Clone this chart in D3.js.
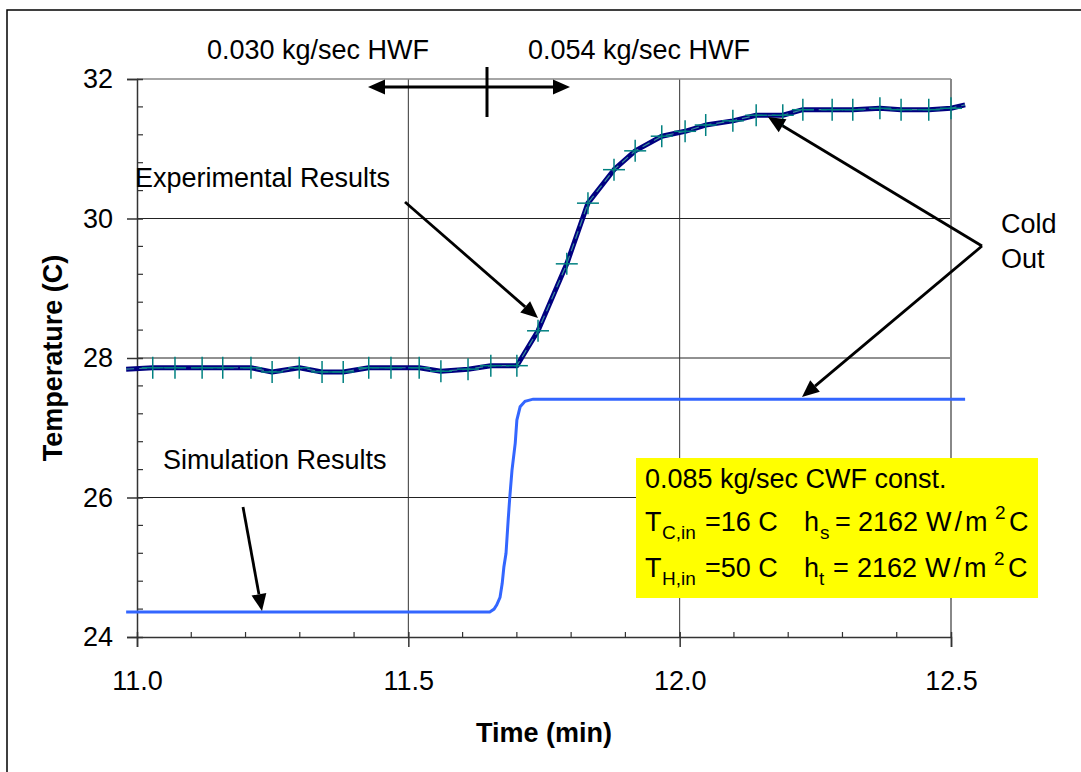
<!DOCTYPE html>
<html><head><meta charset="utf-8">
<script src="https://cdn.jsdelivr.net/npm/d3@7"></script>
<style>body{margin:0;background:#fff}svg{display:block}text{font-family:"Liberation Sans",Arial,sans-serif}</style>
</head><body>
<svg id="c" width="1081" height="772"></svg>
<script>
// ---- data ----
const xTicks = [11.0, 11.5, 12.0, 12.5];
const yTicks = [24, 26, 28, 30, 32];
const expTime = [10.980, 11.029, 11.070, 11.120, 11.158, 11.210, 11.249, 11.299, 11.341, 11.380, 11.427, 11.468, 11.520, 11.560, 11.610, 11.652, 11.700, 11.739, 11.792, 11.831, 11.879, 11.918, 11.967, 12.010, 12.048, 12.098, 12.141, 12.190, 12.227, 12.281, 12.319, 12.369, 12.408, 12.459, 12.500, 12.526];
const expTemp = [27.84, 27.86, 27.86, 27.86, 27.86, 27.86, 27.80, 27.86, 27.80, 27.80, 27.86, 27.86, 27.86, 27.81, 27.84, 27.89, 27.89, 28.39, 29.35, 30.22, 30.70, 30.97, 31.18, 31.25, 31.34, 31.40, 31.48, 31.48, 31.56, 31.56, 31.56, 31.58, 31.56, 31.56, 31.58, 31.63];
const simTime = [10.980, 11.650, 11.658, 11.663, 11.669, 11.673, 11.676, 11.680, 11.684, 11.687, 11.691, 11.697, 11.700, 11.706, 11.715, 11.730, 12.526];
const simTemp = [24.36, 24.36, 24.40, 24.46, 24.57, 24.77, 25.00, 25.20, 25.68, 26.01, 26.39, 26.78, 27.11, 27.30, 27.38, 27.41, 27.41];

const svg = d3.select("#c");
const L = 137, R = 951, T = 79, B = 637;
const x = d3.scaleLinear().domain([11, 12.5]).range([L, R]);
const y = d3.scaleLinear().domain([24, 32]).range([B, T]);
const FS = 27;

// outer frame (left & top visible)
svg.append("rect").attr("x", 7).attr("y", 10).attr("width", 1200).attr("height", 900)
  .attr("fill", "none").attr("stroke", "#000").attr("stroke-width", 1.5);

// gridlines
const g = svg.append("g");
yTicks.filter(d => d > 24 && d < 32).forEach(d => {
  g.append("line").attr("x1", L).attr("x2", R).attr("y1", y(d)).attr("y2", y(d)).attr("stroke", "#222").attr("stroke-width", 1);
});
xTicks.filter(d => d > 11 && d < 12.5).forEach(d => {
  g.append("line").attr("x1", x(d)).attr("x2", x(d)).attr("y1", T).attr("y2", B).attr("stroke", "#333").attr("stroke-width", 1);
});
g.append("line").attr("x1", L).attr("x2", R).attr("y1", T).attr("y2", T).attr("stroke", "#888").attr("stroke-width", 1.5);
g.append("line").attr("x1", R).attr("x2", R).attr("y1", T).attr("y2", B).attr("stroke", "#888").attr("stroke-width", 2);

// axes with d3
const xAxis = d3.axisBottom(x).tickValues(xTicks).tickFormat(d3.format(".1f")).tickSize(10).tickPadding(24);
const xa = svg.append("g").attr("transform", `translate(0,${B})`).call(xAxis);
xa.select(".domain").attr("stroke", "#333").attr("stroke-width", 1.5);
xa.selectAll(".tick line").attr("stroke", "#333").attr("stroke-width", 1.5).attr("y1", -5);
xa.selectAll(".tick text").attr("font-size", FS).attr("fill", "#000").attr("font-family", "Liberation Sans, Arial");
const xMinor = d3.range(11.1, 12.5, 0.1).filter(v => Math.abs(v * 2 - Math.round(v * 2)) > 0.01);
xMinor.forEach(v => svg.append("line").attr("x1", x(v)).attr("x2", x(v)).attr("y1", B - 5).attr("y2", B).attr("stroke", "#333").attr("stroke-width", 1.2));

const yAxis = d3.axisLeft(y).tickValues(yTicks).tickSize(10).tickPadding(14);
const ya = svg.append("g").attr("transform", `translate(${L},0)`).call(yAxis);
ya.select(".domain").attr("stroke", "#333").attr("stroke-width", 1.5);
ya.selectAll(".tick line").attr("stroke", "#333").attr("stroke-width", 1.5).attr("x1", 6);
ya.selectAll(".tick text").attr("font-size", FS).attr("fill", "#000").attr("font-family", "Liberation Sans, Arial");
const yMinor = d3.range(24.4, 32, 0.4).filter(v => Math.abs(v / 2 - Math.round(v / 2)) > 0.01);
yMinor.forEach(v => svg.append("line").attr("x1", L).attr("x2", L + 6).attr("y1", y(v)).attr("y2", y(v)).attr("stroke", "#333").attr("stroke-width", 1.2));

// axis titles
svg.append("text").attr("x", (L + R) / 2).attr("y", 742).attr("text-anchor", "middle")
  .attr("font-size", FS).attr("font-weight", "bold").text("Time (min)");
svg.append("text").attr("transform", `translate(62,${(T + B) / 2}) rotate(-90)`).attr("text-anchor", "middle")
  .attr("font-size", FS).attr("font-weight", "bold").text("Temperature (C)");

// series
const line = d3.line().x(d => x(d[0])).y(d => y(d[1]));
const sim = simTime.map((t, i) => [t, simTemp[i]]);
const exp = expTime.map((t, i) => [t, expTemp[i]]);
svg.append("path").attr("d", line(sim)).attr("fill", "none").attr("stroke", "#3366FF").attr("stroke-width", 3);
svg.append("path").attr("d", line(exp)).attr("fill", "none").attr("stroke", "#000080").attr("stroke-width", 5).attr("stroke-linejoin", "round");
svg.append("path").attr("d", line(exp)).attr("fill", "none").attr("stroke", "#3a8f9a").attr("stroke-width", 1.2).attr("stroke-dasharray", "8,5");
const mk = svg.append("g").attr("stroke", "#008080").attr("stroke-width", 1.5);
exp.filter(d => d[0] >= 11 && d[0] <= 12.501).forEach(d => {
  const cx = x(d[0]), cy = y(d[1]);
  mk.append("line").attr("x1", cx - 11).attr("x2", cx + 11).attr("y1", cy).attr("y2", cy);
  mk.append("line").attr("x1", cx).attr("x2", cx).attr("y1", cy - 11).attr("y2", cy + 11);
});

// arrows
function arrow(x1, y1, x2, y2) {
  const a = Math.atan2(y2 - y1, x2 - x1), len = 17, w = 7.5;
  const bx = x2 - len * Math.cos(a), by = y2 - len * Math.sin(a);
  svg.append("line").attr("x1", x1).attr("y1", y1).attr("x2", bx).attr("y2", by).attr("stroke", "#000").attr("stroke-width", 2.8);
  const p = [[x2, y2], [bx + w * Math.sin(a), by - w * Math.cos(a)], [bx - w * Math.sin(a), by + w * Math.cos(a)]];
  svg.append("path").attr("d", "M" + p.join("L") + "Z").attr("fill", "#000");
}
arrow(487, 87, 368, 87);
arrow(487, 87, 570, 87);
svg.append("line").attr("x1", 487).attr("x2", 487).attr("y1", 67).attr("y2", 117).attr("stroke", "#000").attr("stroke-width", 3);

arrow(405, 202, 538, 318);
arrow(243, 507, 262, 611);
arrow(982, 246, 768, 117);
arrow(982, 246, 802, 397);

// texts
const txt = (s, tx, ty, anchor) => svg.append("text").attr("x", tx).attr("y", ty).attr("font-size", FS).attr("text-anchor", anchor || "start").text(s);
txt("0.030 kg/sec HWF", 318, 59, "middle");
txt("0.054 kg/sec HWF", 639, 59, "middle");
txt("Experimental Results", 135, 187);
txt("Simulation Results", 163, 469);
txt("Cold", 1001, 233);
txt("Out", 1001, 268);

// yellow box
svg.append("rect").attr("x", 636).attr("y", 458).attr("width", 402).attr("height", 140).attr("fill", "#FFFF00");
txt("0.085 kg/sec CWF const.", 645, 488);
function rich(parts, ty) {
  const t = svg.append("text").attr("y", ty).attr("font-size", FS);
  parts.forEach(p => {
    const s = t.append("tspan").attr("x", p.x).attr("y", ty + (p.dy || 0)).text(p.s);
    if (p.small) s.attr("font-size", 19);
    if (p.ls) s.attr("letter-spacing", p.ls);
  });
}
rich([{s: "T", x: 645}, {s: "C,in", x: 662, dy: 8, small: true}, {s: "=16 C", x: 705},
      {s: "h", x: 804}, {s: "s", x: 820, dy: 8, small: true}, {s: "=", x: 835}, {s: "2162", x: 858},
      {s: "W/m", x: 926, ls: 3},
      {s: "2", x: 995, dy: -12, small: true}, {s: "C", x: 1009}], 531);
rich([{s: "T", x: 645}, {s: "H,in", x: 662, dy: 8, small: true}, {s: "=50 C", x: 705},
      {s: "h", x: 804}, {s: "t", x: 819, dy: 8, small: true}, {s: "=", x: 833}, {s: "2162", x: 857},
      {s: "W/m", x: 925, ls: 3},
      {s: "2", x: 994, dy: -12, small: true}, {s: "C", x: 1008}], 577);
</script>
</body></html>
